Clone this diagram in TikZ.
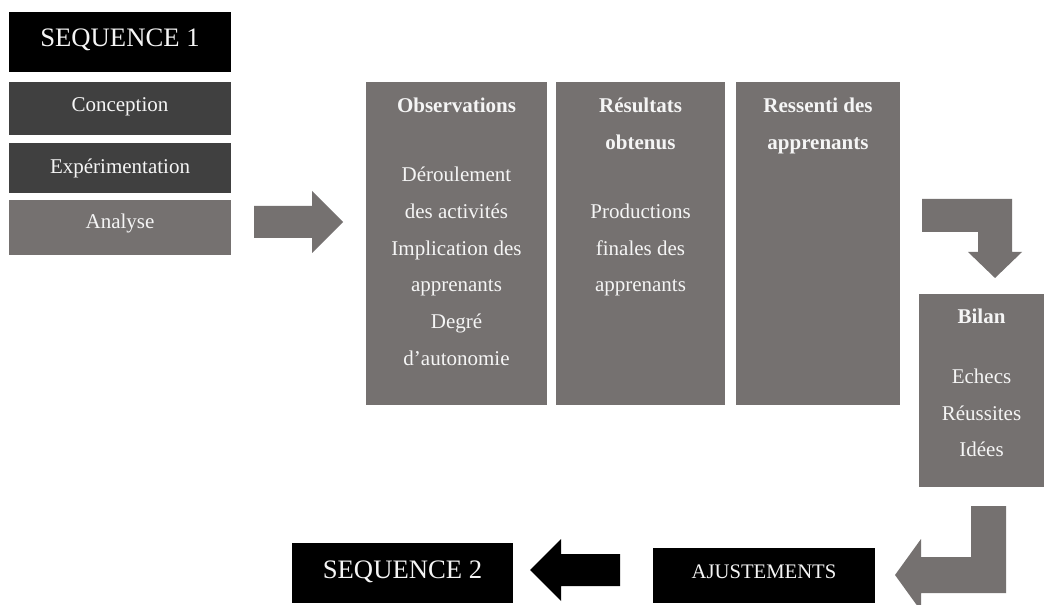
\documentclass[tikz,border=0pt]{standalone}
\usepackage{fontspec}
\setmainfont{Liberation Serif}
\definecolor{midgray}{RGB}{117,113,112}
\definecolor{darkgray}{RGB}{64,64,64}
\definecolor{txt}{RGB}{245,245,245}
\begin{document}
\begin{tikzpicture}[x=0.75pt,y=-0.75pt,
  box/.style={rectangle,inner sep=0pt,outer sep=0pt,draw=none},
  blackbox/.style={box,fill=black},
  darkbox/.style={box,fill=darkgray},
  graybox/.style={box,fill=midgray},
  lbl/.style={anchor=base,inner sep=0pt,text=txt,font=\fontsize{15.75pt}{18pt}\selectfont},
  bigl/.style={lbl,font=\fontsize{20pt}{24pt}\selectfont},
  ttl/.style={lbl,font=\fontsize{15.75pt}{18pt}\selectfont\bfseries},
  blockarrow/.style={fill=midgray,draw=none},
  blackarrow/.style={fill=black,draw=none}]
\useasboundingbox (0,0) rectangle (1044,605);
\fill[white] (0,0) rectangle (1044,605);

% left column
\node[blackbox,minimum width=166.5pt,minimum height=45pt] (seq1) at (120,42) {};
\node[darkbox,minimum width=166.5pt,minimum height=39.75pt] (conc) at (120,108.5) {};
\node[darkbox,minimum width=166.5pt,minimum height=37.5pt] (exp) at (120,168) {};
\node[graybox,minimum width=166.5pt,minimum height=41.25pt] (ana) at (120,227.5) {};
\node[bigl] (tseq1) at (120,47) {SEQUENCE 1};
\node[lbl] (tconc) at (120,112) {Conception};
\node[lbl] (texp) at (120,174) {Expérimentation};
\node[lbl] (tana) at (120,229) {Analyse};

% columns
\node[graybox,minimum width=135.75pt,minimum height=242.25pt] (obs) at (456.5,243.5) {};
\node[graybox,minimum width=126.75pt,minimum height=242.25pt] (res) at (640.5,243.5) {};
\node[graybox,minimum width=123pt,minimum height=242.25pt] (ress) at (818,243.5) {};

\node[ttl] (tobs) at (456.5,113) {Observations};
\node[lbl] (o1) at (456.5,182) {Déroulement};
\node[lbl] (o2) at (456.5,218.6) {des activités};
\node[lbl] (o3) at (456.5,255.2) {Implication des};
\node[lbl] (o4) at (456.5,291.8) {apprenants};
\node[lbl] (o5) at (456.5,328.4) {Degré};
\node[lbl] (o6) at (456.5,365) {d’autonomie};

\node[ttl] (tres1) at (640.5,113) {Résultats};
\node[ttl] (tres2) at (640.5,150) {obtenus};
\node[lbl] (r1) at (640.5,218.6) {Productions};
\node[lbl] (r2) at (640.5,255.2) {finales des};
\node[lbl] (r3) at (640.5,291.8) {apprenants};

\node[ttl] (tress1) at (818,113) {Ressenti des};
\node[ttl] (tress2) at (818,150) {apprenants};

% bilan
\node[graybox,minimum width=93.75pt,minimum height=144.75pt] (bilan) at (981.5,390.5) {};
\node[ttl] (tbil) at (981.5,324) {Bilan};
\node[lbl] (b1) at (981.5,383.5) {Echecs};
\node[lbl] (b2) at (981.5,420) {Réussites};
\node[lbl] (b3) at (981.5,456.5) {Idées};

% bottom row
\node[blackbox,minimum width=165.75pt,minimum height=45pt] (seq2) at (402.5,573) {};
\node[bigl] (tseq2) at (402.5,578) {SEQUENCE 2};
\node[blackbox,minimum width=166.5pt,minimum height=41.25pt] (ajust) at (764,575.5) {};
\node[lbl,font=\fontsize{15.5pt}{18pt}\selectfont] (tajust) at (764,578) {AJUSTEMENTS};

% block arrows
\fill[blockarrow] (254,206) -- (312,206) -- (312,191) -- (343,222) -- (312,253) -- (312,238) -- (254,238) -- cycle;
\fill[blockarrow] (922,199) -- (1012,199) -- (1012,252) -- (1022,252) -- (995,278) -- (968,252) -- (978,252) -- (978,232) -- (922,232) -- cycle;
\fill[blockarrow] (971,506) -- (1006,506) -- (1006,593) -- (921,593) -- (921,611) -- (895,575) -- (921,539) -- (921,557) -- (971,557) -- cycle;
\fill[blackarrow] (620,554) -- (620,586) -- (561,586) -- (561,601) -- (530,570) -- (561,539) -- (561,554) -- cycle;
\end{tikzpicture}
\end{document}
